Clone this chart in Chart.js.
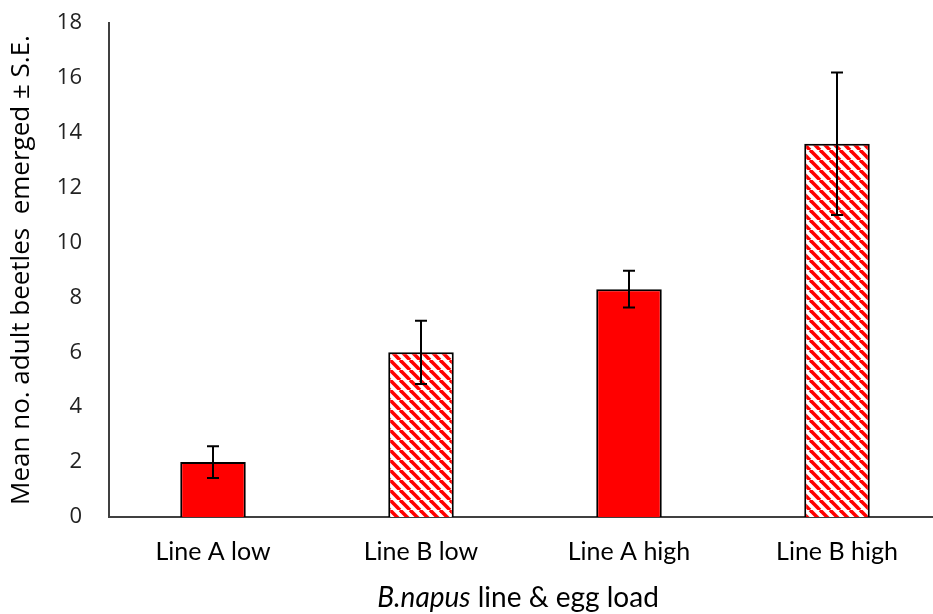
<!DOCTYPE html>
<html>
<head>
<meta charset="utf-8">
<script src="https://cdn.jsdelivr.net/npm/chart.js@4.4.1/dist/chart.umd.min.js"></script>
<style>
  html, body { margin: 0; padding: 0; background: #ffffff; overflow: hidden; }
  #wrap { width: 941px; height: 614px; position: relative; }
</style>
</head>
<body>
<div id="wrap"><canvas id="beetlesChart"></canvas></div>
<script>
// Datos del gráfico
const categorias = ['Line A low', 'Line B low', 'Line A high', 'Line B high'];
const medias = [2.0, 6.0, 8.3, 13.6];
const errores = [0.58, 1.15, 0.67, 2.6];
const rayado = [false, true, false, true];
const ticksY = [0, 2, 4, 6, 8, 10, 12, 14, 16, 18];

const rojo = '#ff0000';

// Patrón de rayas diagonales rojo / blanco
function crearRayado() {
    const s = 10;
    const c = document.createElement('canvas');
    c.width = s;
    c.height = s;
    const g = c.getContext('2d');
    g.fillStyle = '#ffffff';
    g.fillRect(0, 0, s, s);
    g.strokeStyle = rojo;
    g.lineWidth = 3.6;
    for (let k = -1; k <= 1; k++) {
        g.beginPath();
        g.moveTo(k * s, 0);
        g.lineTo(k * s + s, s);
        g.stroke();
    }
    return g.createPattern(c, 'repeat');
}

const patron = crearRayado();

// Barras de error (± S.E.)
const barrasError = {
    id: 'barrasError',
    afterDatasetsDraw(chart) {
        const ctx = chart.ctx;
        const meta = chart.getDatasetMeta(0);
        const y = chart.scales.y;
        ctx.save();
        ctx.strokeStyle = '#000000';
        ctx.lineWidth = 2;
        meta.data.forEach((bar, i) => {
            const x = bar.x;
            const arriba = y.getPixelForValue(medias[i] + errores[i]);
            const abajo = y.getPixelForValue(medias[i] - errores[i]);
            ctx.beginPath();
            ctx.moveTo(x, arriba);
            ctx.lineTo(x, abajo);
            ctx.moveTo(x - 6, arriba);
            ctx.lineTo(x + 6, arriba);
            ctx.moveTo(x - 6, abajo);
            ctx.lineTo(x + 6, abajo);
            ctx.stroke();
        });
        ctx.restore();
    }
};

// Título del eje X con parte en cursiva
const tituloX = {
    id: 'tituloX',
    afterDraw(chart) {
        const ctx = chart.ctx;
        const cursiva = 'italic 28px "Lato", "Open Sans", sans-serif';
        const normal = '28px "Lato", "Open Sans", sans-serif';
        const a = 'B.napus';
        const b = ' line & egg load';
        ctx.save();
        ctx.fillStyle = '#000000';
        ctx.textBaseline = 'middle';
        ctx.font = cursiva;
        const wa = ctx.measureText(a).width;
        ctx.font = normal;
        const wb = ctx.measureText(b).width;
        const cx = 518;
        const x0 = cx - (wa + wb) / 2;
        ctx.font = cursiva;
        ctx.fillText(a, x0, 598);
        ctx.font = normal;
        ctx.fillText(b, x0 + wa, 598);
        ctx.restore();
    }
};

new Chart(document.getElementById('beetlesChart'), {
    type: 'bar',
    data: {
        labels: categorias,
        datasets: [{
            data: medias,
            backgroundColor: rayado.map(r => r ? patron : rojo),
            borderColor: '#000000',
            borderWidth: 2,
            barPercentage: 0.63,
            categoryPercentage: 0.5
        }]
    },
    options: {
        responsive: true,
        maintainAspectRatio: false,
        animation: false,
        layout: {
            padding: { top: 23, right: 0, bottom: 0, left: 0 }
        },
        plugins: {
            legend: { display: false },
            tooltip: { enabled: false }
        },
        scales: {
            x: {
                grid: { display: false, drawTicks: false },
                border: { display: true, color: '#404040', width: 2 },
                ticks: {
                    color: '#000000',
                    padding: 20,
                    font: { family: '"Lato", "Open Sans", sans-serif', size: 25 }
                },
                afterFit(scale) { scale.height = 97; }
            },
            y: {
                min: 0,
                max: 18,
                afterBuildTicks(scale) { scale.ticks = ticksY.map(v => ({ value: v })); },
                grid: { display: false, drawTicks: false },
                border: { display: true, color: '#404040', width: 2 },
                ticks: {
                    color: '#222222',
                    padding: 27,
                    font: { family: '"Open Sans", sans-serif', size: 22 }
                },
                title: {
                    display: true,
                    text: 'Mean no. adult beetles  emerged ± S.E.',
                    color: '#000000',
                    font: { family: '"Open Sans", sans-serif', size: 26 },
                    padding: { top: 6, bottom: 0 }
                },
                afterFit(scale) {
                    scale.width = 109;
                    scale.paddingTop = 0;
                    scale.paddingBottom = 0;
                }
            }
        }
    },
    plugins: [barrasError, tituloX]
});
</script>
</body>
</html>
